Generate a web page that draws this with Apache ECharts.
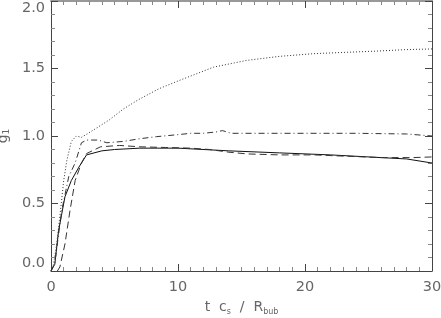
<!DOCTYPE html>
<html>
<head>
<meta charset="utf-8">
<script src="https://cdn.jsdelivr.net/npm/echarts@6/dist/echarts.min.js"></script>
<style>html,body{margin:0;padding:0;background:#fff;}#c{width:441px;height:318px;}</style>
</head>
<body>
<div id="c"></div>
<script>
const xTicks = [0, 10, 20, 30];
const yTicks = [0.0, 0.5, 1.0, 1.5, 2.0];

const solid = [[0,0],[0.3,0.05],[0.6,0.3],[1.1,0.55],[1.6,0.67],[2.2,0.77],[2.8,0.86],[4,0.89],[5,0.9],[7,0.91],[10,0.91],[14,0.89],[18,0.875],[22,0.86],[26,0.84],[28,0.83],[30,0.80]];
const dotted = [[0,0],[0.2,0.05],[0.45,0.2],[0.75,0.45],[1.0,0.67],[1.25,0.82],[1.6,0.96],[2.0,1.0],[2.4,0.99],[3.1,1.03],[4.6,1.12],[5.7,1.2],[6.9,1.27],[8.5,1.35],[10.2,1.415],[12.8,1.51],[15.4,1.56],[18,1.59],[20.7,1.61],[23.3,1.62],[25.9,1.63],[28,1.64],[30,1.645]];
const dashDot = [[0,0],[0.3,0.06],[0.85,0.45],[1.4,0.7],[1.9,0.8],[2.4,0.95],[2.8,0.97],[3.7,0.97],[4.4,0.95],[5.7,0.96],[7,0.98],[8.3,0.995],[10,1.01],[11,1.02],[12,1.02],[13,1.03],[13.5,1.04],[14.2,1.02],[16,1.02],[20,1.02],[24,1.02],[28,1.015],[30,1.0]];
const dashed = [[0.5,0],[0.7,0.03],[1.1,0.2],[1.5,0.45],[1.9,0.67],[2.4,0.8],[2.8,0.87],[3.9,0.92],[5.4,0.93],[7,0.92],[9,0.915],[11,0.91],[12.5,0.9],[14,0.88],[15.5,0.867],[18,0.86],[20.7,0.86],[23.3,0.85],[26,0.84],[28.5,0.84],[30,0.845]];

const axisCol = '#444';
const textCol = '#666';
const font = 'DejaVu Sans';

const chart = echarts.init(document.getElementById('c'), null, {renderer: 'canvas'});
const mkSeries = (data, type, color) => ({
  type: 'line', data: data, showSymbol: false, symbol: 'none', animation: false,
  lineStyle: {color: color, width: 1, type: type}, xAxisIndex: 0, yAxisIndex: 0
});
chart.setOption({
  animation: false,
  backgroundColor: '#fff',
  grid: {left: 51, right: 9, top: 1, bottom: 47, containLabel: false, outerBoundsMode: 'none'},
  xAxis: [{
    type: 'value', min: xTicks[0], max: xTicks[xTicks.length-1], interval: 10,
    axisLine: {show: true, onZero: false, lineStyle: {color: axisCol, width: 1}},
    axisTick: {inside: true, length: 7, lineStyle: {color: axisCol}},
    minorTick: {show: true, splitNumber: 10, length: 4, lineStyle: {color: '#888'}},
    splitLine: {show: false},
    axisLabel: {color: textCol, fontFamily: font, fontSize: 14.5, margin: 9},
    name: 't  c{s|s}  /  R{s|bub}', nameLocation: 'middle', nameGap: 28,
    nameTextStyle: {color: textCol, fontFamily: font, fontSize: 14,
      rich: {s: {fontSize: 8, verticalAlign: 'bottom', padding: [9,0,0,0], color: textCol, fontFamily: font}}}
  }, {
    type: 'value', position: 'top', min: 0, max: 30, interval: 10,
    axisLine: {show: true, onZero: false, lineStyle: {color: '#999', width: 2}},
    axisTick: {inside: true, length: 7, lineStyle: {color: axisCol}},
    minorTick: {show: true, splitNumber: 10, length: 4, lineStyle: {color: '#888'}},
    splitLine: {show: false}, axisLabel: {show: false}
  }],
  yAxis: [{
    type: 'value', min: yTicks[0], max: yTicks[yTicks.length-1], interval: 0.5,
    axisLine: {show: true, onZero: false, lineStyle: {color: axisCol, width: 1}},
    axisTick: {inside: true, length: 7, lineStyle: {color: axisCol}},
    minorTick: {show: true, splitNumber: 5, length: 4, lineStyle: {color: '#888'}},
    splitLine: {show: false},
    axisLabel: {color: textCol, fontFamily: font, fontSize: 14.5, margin: 6, formatter: v => v.toFixed(1),
      verticalAlignMinLabel: 'bottom', verticalAlignMaxLabel: 'top'},
    name: 'g{s|1}', nameLocation: 'middle', nameGap: 39, nameRotate: 90,
    nameTextStyle: {color: textCol, fontFamily: font, fontSize: 14,
      rich: {s: {fontSize: 9, verticalAlign: 'bottom', padding: [6,0,0,0], color: textCol, fontFamily: font}}}
  }, {
    type: 'value', position: 'right', min: 0, max: 2, interval: 0.5,
    axisLine: {show: true, onZero: false, lineStyle: {color: axisCol, width: 1}},
    axisTick: {inside: true, length: 7, lineStyle: {color: axisCol}},
    minorTick: {show: true, splitNumber: 5, length: 4, lineStyle: {color: '#888'}},
    splitLine: {show: false}, axisLabel: {show: false}
  }],
  series: [
    mkSeries(solid, 'solid', '#111'),
    mkSeries(dotted, [1, 2], '#333'),
    mkSeries(dashDot, [6, 3, 1, 3], '#333'),
    mkSeries(dashed, [7, 4], '#333')
  ]
});
</script>
</body>
</html>
